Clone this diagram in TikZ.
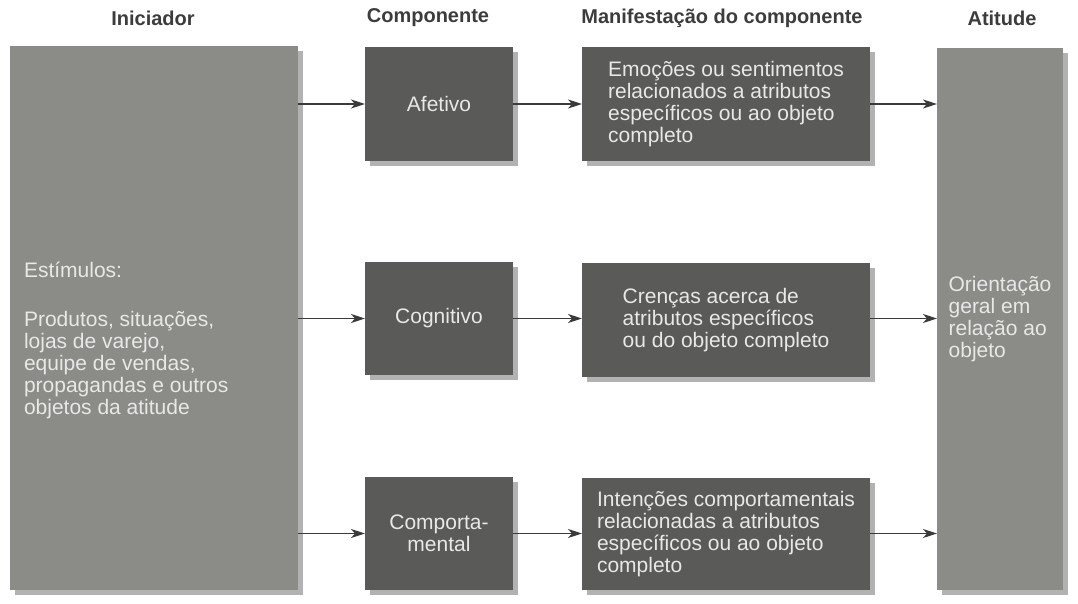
\documentclass[tikz,border=0pt]{standalone}
\usepackage{fontspec}
\setmainfont{Liberation Sans}
\usetikzlibrary{shadows,arrows.meta}
\definecolor{lightbox}{HTML}{8B8C88}
\definecolor{darkbox}{HTML}{5A5A58}
\definecolor{boxtext}{HTML}{E8E8E6}
\definecolor{titletext}{HTML}{3C3C3C}
\definecolor{arrowcol}{HTML}{3A3A3A}
\tikzset{
  every node/.style={inner sep=0pt, outer sep=0pt},
  boxbase/.style={draw=none, text=boxtext, font=\fontsize{21}{22}\selectfont,
    drop shadow={shadow xshift=5pt, shadow yshift=-5pt, opacity=0.3, fill=black}},
  bigbox/.style={boxbase, fill=lightbox},
  smallbox/.style={boxbase, fill=darkbox, align=center},
  textbox/.style={boxbase, fill=darkbox, align=left},
  boxlabel/.style={text=boxtext, font=\fontsize{21}{22}\selectfont, align=left},
  title/.style={text=titletext, font=\bfseries\fontsize{20}{22}\selectfont},
  conn/.style={draw=arrowcol, line width=1.7pt, -{Stealth[length=14pt, width=9pt, inset=4pt]}}
}
\begin{document}
\begin{tikzpicture}[x=1pt, y=-1pt]
\useasboundingbox[fill=white] (0,0) rectangle (1078,604);

% titles
\node[title] (t1) at (153,18) {Iniciador};
\node[title] (t2) at (428,18) {Componente};
\node[title] (t3) at (722,18) {Manifestação do componente};
\node[title] (t4) at (1002,18) {Atitude};

% boxes
\node[bigbox, minimum width=288pt, minimum height=544pt] (ini) at (154,318) {};
\node[boxlabel, anchor=north west] (initxt) at (24,262)
  {Estímulos:\\[27pt]Produtos, situações,\\lojas de varejo,\\equipe de vendas,\\propagandas e outros\\objetos da atitude};

\node[smallbox, minimum width=148pt, minimum height=114pt] (afe) at (439,104) {Afetivo};
\node[smallbox, minimum width=148pt, minimum height=113pt] (cog) at (439,318.5) {Cognitivo};
\node[smallbox, minimum width=148pt, minimum height=113pt] (com) at (439,533.5) {Comporta-\\mental};

\node[textbox, minimum width=288pt, minimum height=114pt] (m1) at (726,104)
  {Emoções ou sentimentos\\relacionados a atributos\\específicos ou ao objeto\\completo};
\node[textbox, minimum width=288pt, minimum height=114pt] (m2) at (726,320)
  {Crenças acerca de\\atributos específicos\\ou do objeto completo};
\node[textbox, minimum width=288pt, minimum height=112pt] (m3) at (726,534)
  {Intenções comportamentais\\relacionadas a atributos\\específicos ou ao objeto\\completo};

\node[bigbox, align=left, minimum width=126pt, minimum height=542pt] (ati) at (1000,319)
  {Orientação\\geral em\\relação ao\\objeto};

% connectors
\draw[conn] (ini.east |- afe) -- (afe.west);
\draw[conn] (ini.east |- cog) -- (cog.west);
\draw[conn] (ini.east |- com) -- (com.west);
\draw[conn] (afe.east) -- (m1.west |- afe);
\draw[conn] (cog.east) -- (m2.west |- cog);
\draw[conn] (com.east) -- (m3.west |- com);
\draw[conn] (m1.east) -- (ati.west |- m1);
\draw[conn] (m2.east |- cog) -- (ati.west |- cog);
\draw[conn] (m3.east |- com) -- (ati.west |- com);
\end{tikzpicture}
\end{document}
